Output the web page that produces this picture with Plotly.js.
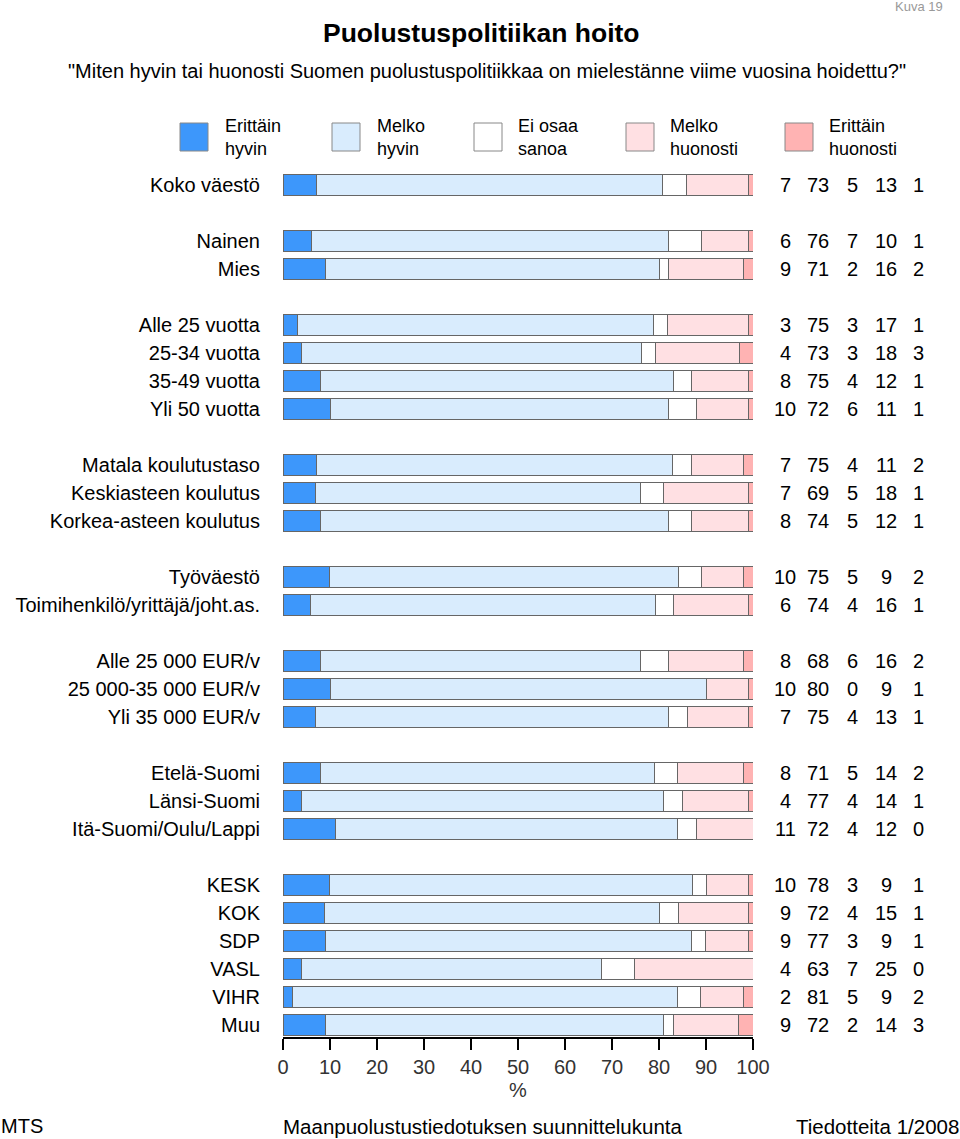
<!DOCTYPE html>
<html>
<head>
<meta charset="utf-8">
<script src="https://cdn.plot.ly/plotly-3.0.1.min.js"></script>
<style>html,body{margin:0;padding:0;background:#fff;}#chart{width:960px;height:1139px;}</style>
</head>
<body>
<div id="chart"></div>
<script>
// ---- data ----
const groups = [
  ["Koko väestö"],
  ["Nainen", "Mies"],
  ["Alle 25 vuotta", "25-34 vuotta", "35-49 vuotta", "Yli 50 vuotta"],
  ["Matala koulutustaso", "Keskiasteen koulutus", "Korkea-asteen koulutus"],
  ["Työväestö", "Toimihenkilö/yrittäjä/joht.as."],
  ["Alle 25 000 EUR/v", "25 000-35 000 EUR/v", "Yli 35 000 EUR/v"],
  ["Etelä-Suomi", "Länsi-Suomi", "Itä-Suomi/Oulu/Lappi"],
  ["KESK", "KOK", "SDP", "VASL", "VIHR", "Muu"]
];
const seriesNames = ["Erittäin<br>hyvin", "Melko<br>hyvin", "Ei osaa<br>sanoa", "Melko<br>huonosti", "Erittäin<br>huonosti"];
const erittainHyvin   = [7, 6, 9, 3, 4, 8, 10, 7, 7, 8, 10, 6, 8, 10, 7, 8, 4, 11, 10, 9, 9, 4, 2, 9];
const melkoHyvin      = [73, 76, 71, 75, 73, 75, 72, 75, 69, 74, 75, 74, 68, 80, 75, 71, 77, 72, 78, 72, 77, 63, 81, 72];
const eiOsaa          = [5, 7, 2, 3, 3, 4, 6, 4, 5, 5, 5, 4, 6, 0, 4, 5, 4, 4, 3, 4, 3, 7, 5, 2];
const melkoHuonosti   = [13, 10, 16, 17, 18, 12, 11, 11, 18, 12, 9, 16, 16, 9, 13, 14, 14, 12, 9, 15, 9, 25, 9, 14];
const erittainHuonosti= [1, 1, 2, 1, 3, 1, 1, 2, 1, 1, 2, 1, 2, 1, 1, 2, 1, 0, 1, 1, 1, 0, 2, 3];
const xTicks = [0, 10, 20, 30, 40, 50, 60, 70, 80, 90, 100];

// ---- styling ----
const colors = ["#3d97fb", "#d9ecfd", "#ffffff", "#ffe0e3", "#ffb3b3"];
const series = [erittainHyvin, melkoHyvin, eiOsaa, melkoHuonosti, erittainHuonosti];
const FONT = "Liberation Sans, Arial, sans-serif";

// row positions: one empty slot between groups
const labels = [], ypos = [];
let slot = 0;
groups.forEach((g, gi) => {
  if (gi > 0) slot += 1;
  g.forEach(l => { labels.push(l); ypos.push(slot); slot += 1; });
});

// rounded shares do not always sum to 100; bars show each row's share of its total
const totals = labels.map((_, r) => series.reduce((s, vals) => s + vals[r], 0));

const traces = series.map((vals, i) => ({
  type: "bar", orientation: "h",
  x: vals.map((v, r) => v / totals[r] * 100), y: ypos,
  customdata: vals,
  name: seriesNames[i],
  width: 0.72,
  marker: { color: colors[i], line: { color: "#666", width: 1 } },
  hovertemplate: "%{customdata} %<extra></extra>",
  showlegend: false
}));

// pixel helpers for paper coords
const L = 283, R = 753, T = 165, B = 1037;
const px = x => (x - L) / (R - L);
const py = y => (B - y) / (B - T);

const annotations = [];
const valCols = [785, 818, 852, 886, 918];
series.forEach((vals, si) => {
  vals.forEach((v, ri) => {
    annotations.push({
      xref: "paper", yref: "y", x: px(valCols[si]), y: ypos[ri],
      text: String(v), showarrow: false, xanchor: "center", yanchor: "middle",
      font: { family: FONT, size: 20, color: "#000" }
    });
  });
});

// legend (custom)
const shapes = [];
const legBoxes = [180, 332, 474, 626, 785];
const legText = [223, 375, 516, 668, 827];
legBoxes.forEach((bx, i) => {
  shapes.push({
    type: "rect", xref: "paper", yref: "paper",
    x0: px(bx), x1: px(bx + 28), y0: py(151), y1: py(123),
    fillcolor: colors[i], line: { color: "#888", width: 1 }
  });
  annotations.push({
    xref: "paper", yref: "paper", x: px(legText[i]), y: py(137),
    text: seriesNames[i], showarrow: false, xanchor: "left", yanchor: "middle", align: "left",
    font: { family: FONT, size: 18, color: "#000" }
  });
});

// titles & footer
const addText = (x, y, text, size, anchor, color) => annotations.push({
  xref: "paper", yref: "paper", x: px(x), y: py(y), text: text, showarrow: false,
  xanchor: anchor, yanchor: "middle", font: { family: FONT, size: size, color: color || "#000" }
});
addText(481, 33, "<b>Puolustuspolitiikan hoito</b>", 26.5, "center");
addText(66, 71, "\"Miten hyvin tai huonosti Suomen puolustuspolitiikkaa on mielestänne viime vuosina hoidettu?\"", 20, "left");
addText(945, 7, "Kuva 19", 13, "right", "#999");
addText(-1, 1126, "MTS", 20, "left");
addText(482, 1126, "Maanpuolustustiedotuksen suunnittelukunta", 20.5, "center");
addText(961, 1126, "Tiedotteita 1/2008", 20.5, "right");

const layout = {
  width: 960, height: 1139,
  margin: { l: L, r: 960 - R, t: T, b: 1139 - B, pad: 0 },
  paper_bgcolor: "#fff", plot_bgcolor: "#fff",
  barmode: "stack",
  showlegend: false,
  font: { family: FONT, size: 20, color: "#000" },
  xaxis: {
    range: [0, 100], tickvals: xTicks, ticktext: xTicks.map(String),
    showgrid: false, zeroline: false,
    showline: true, linecolor: "#000", linewidth: 2,
    ticks: "outside", ticklen: 11, tickwidth: 1.5, tickcolor: "#000",
    tickfont: { family: FONT, size: 20, color: "#333" },
    title: { text: "%", font: { family: FONT, size: 20, color: "#333" }, standoff: 6 },
    fixedrange: true
  },
  yaxis: {
    range: [30 + 12 / 28, -20 / 28],
    tickvals: ypos, ticktext: labels,
    showgrid: false, zeroline: false, showline: false, ticks: "",
    ticklabelstandoff: 22,
    tickfont: { family: FONT, size: 20, color: "#000" },
    fixedrange: true
  },
  annotations: annotations,
  shapes: shapes
};

Plotly.newPlot("chart", traces, layout, { displayModeBar: false, staticPlot: true });
</script>
</body>
</html>
